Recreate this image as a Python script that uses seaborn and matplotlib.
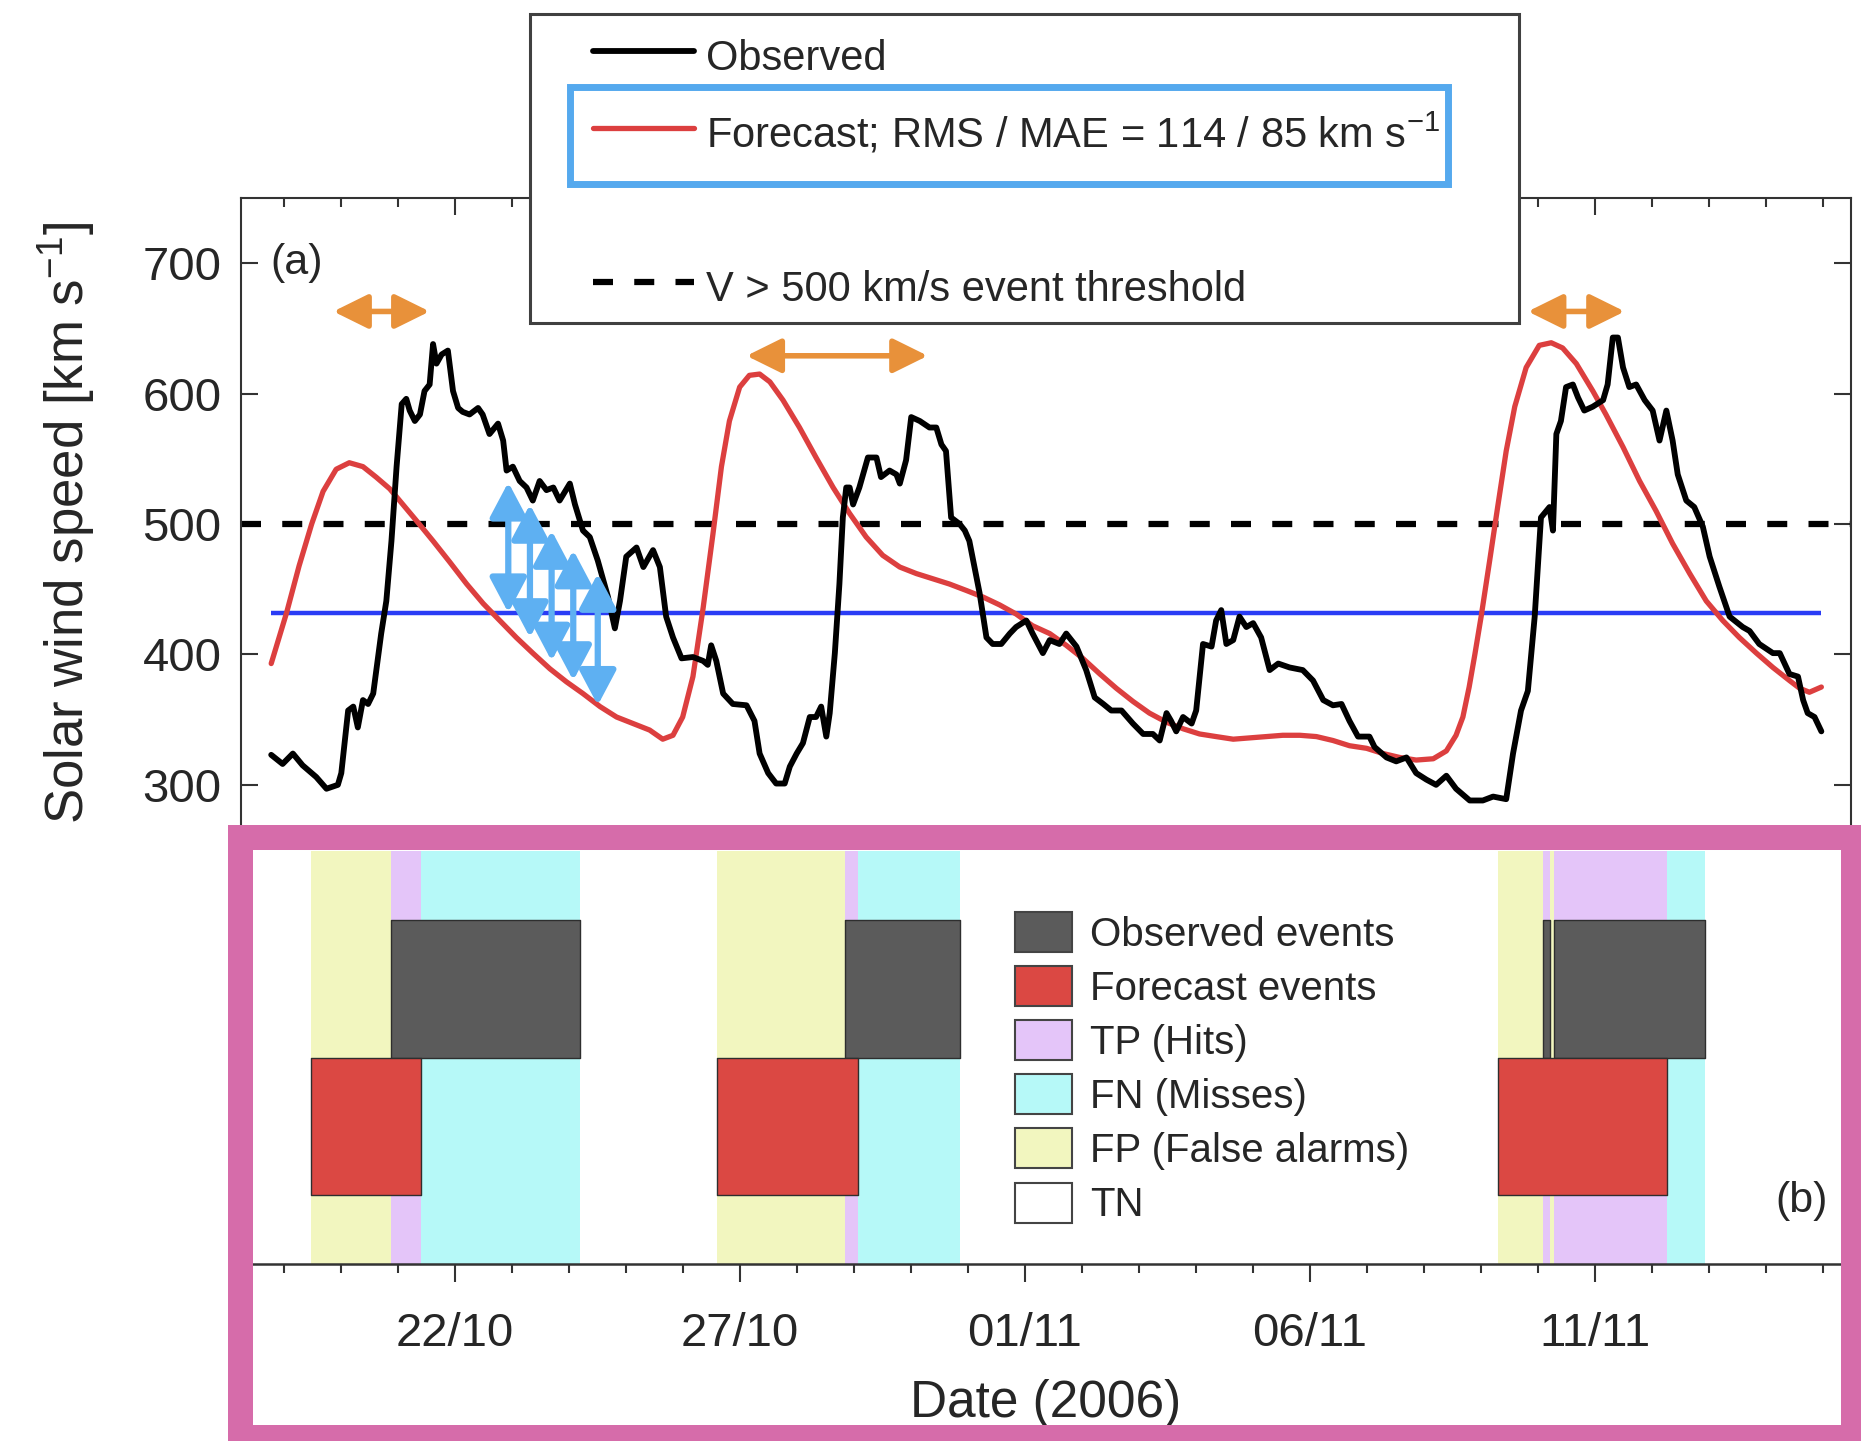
import matplotlib
matplotlib.use('Agg')
import matplotlib.pyplot as plt
import seaborn as sns
import pandas as pd
from matplotlib.patches import Rectangle, Patch
from matplotlib.lines import Line2D

# time is given as day of October 2006 (32 = 1 November)
obs_t = [18.78, 18.98, 19.16, 19.33, 19.57, 19.75, 19.95, 20.01, 20.13, 20.22, 20.30, 20.39, 20.48, 20.57,
         20.71, 20.80, 20.89, 20.98, 21.07, 21.15, 21.21, 21.30, 21.39, 21.47, 21.56, 21.62, 21.68, 21.77,
         21.88, 21.97, 22.06, 22.14, 22.26, 22.41, 22.49, 22.61, 22.76, 22.85, 22.91, 23.02, 23.14, 23.26,
         23.37, 23.49, 23.61, 23.73, 23.84, 24.02, 24.11, 24.25, 24.37, 24.51, 24.69, 24.81, 24.90, 25.01,
         25.19, 25.31, 25.48, 25.60, 25.71, 25.83, 25.98, 26.18, 26.36, 26.44, 26.50, 26.59, 26.71, 26.88,
         27.12, 27.26, 27.35, 27.50, 27.64, 27.79, 27.88, 28.00, 28.11, 28.23, 28.34, 28.43, 28.52, 28.58,
         28.67, 28.75, 28.81, 28.87, 28.93, 28.99, 29.10, 29.25, 29.40, 29.48, 29.63, 29.75, 29.81, 29.92,
         30.01, 30.16, 30.33, 30.45, 30.54, 30.62, 30.71, 30.86, 30.95, 31.03, 31.21, 31.33, 31.44, 31.59,
         31.74, 31.85, 32.03, 32.14, 32.32, 32.44, 32.61, 32.73, 32.91, 33.08, 33.23, 33.38, 33.52, 33.70,
         33.90, 34.08, 34.25, 34.37, 34.49, 34.57, 34.66, 34.78, 34.93, 35.01, 35.13, 35.28, 35.36, 35.45,
         35.54, 35.66, 35.77, 35.89, 36.01, 36.15, 36.30, 36.45, 36.65, 36.88, 37.06, 37.24, 37.41, 37.56,
         37.70, 37.85, 38.05, 38.14, 38.35, 38.52, 38.70, 38.87, 39.05, 39.22, 39.40, 39.57, 39.81, 40.04,
         40.22, 40.45, 40.57, 40.71, 40.83, 40.95, 41.06, 41.21, 41.27, 41.33, 41.41, 41.50, 41.62, 41.71,
         41.82, 41.97, 42.15, 42.23, 42.32, 42.41, 42.50, 42.61, 42.73, 42.88, 43.02, 43.14, 43.26, 43.37,
         43.46, 43.61, 43.75, 43.90, 44.02, 44.19, 44.37, 44.60, 44.72, 44.89, 45.13, 45.25, 45.42, 45.57,
         45.66, 45.74, 45.86, 45.98]
obs_v = [323, 316, 324, 315, 306, 297, 300, 309, 357, 360, 344, 365, 362, 370,
         416, 441, 487, 544, 592, 596, 587, 579, 584, 602, 607, 638, 623, 630,
         633, 602, 589, 586, 584, 589, 584, 569, 577, 564, 541, 544, 533, 528,
         518, 533, 526, 528, 518, 531, 515, 495, 490, 472, 444, 420, 441, 475,
         482, 467, 480, 467, 429, 413, 397, 398, 395, 392, 407, 395, 370, 362,
         361, 349, 324, 309, 301, 301, 314, 324, 332, 352, 352, 360, 337, 355,
         401, 454, 505, 528, 528, 515, 528, 551, 551, 536, 541, 538, 531, 549,
         582, 579, 574, 574, 561, 556, 505, 500, 495, 487, 447, 413, 408, 408,
         416, 421, 426, 416, 401, 411, 408, 416, 406, 388, 367, 362, 357, 357,
         347, 339, 339, 334, 355, 349, 341, 352, 347, 357, 408, 406, 426, 434,
         408, 411, 429, 421, 424, 413, 388, 393, 390, 388, 380, 365, 361, 362,
         349, 337, 337, 329, 321, 318, 321, 309, 304, 300, 307, 297, 288, 288,
         291, 289, 324, 357, 372, 429, 505, 513, 495, 569, 579, 605, 607, 597,
         587, 590, 595, 607, 643, 643, 620, 605, 607, 595, 587, 564, 587, 564,
         538, 518, 513, 498, 475, 452, 429, 421, 418, 408, 401, 401, 385, 383,
         365, 355, 352, 341]

fc_t = [18.78, 19.05, 19.27, 19.49, 19.69, 19.92, 20.15, 20.39, 20.62, 20.86, 21.09, 21.32, 21.62, 21.91,
        22.21, 22.50, 22.79, 23.08, 23.37, 23.67, 23.96, 24.25, 24.55, 24.84, 25.13, 25.42, 25.65, 25.83,
        26.00, 26.18, 26.36, 26.53, 26.68, 26.82, 27.00, 27.17, 27.35, 27.53, 27.76, 28.05, 28.34, 28.64,
        28.93, 29.22, 29.51, 29.81, 30.10, 30.39, 30.68, 30.98, 31.27, 31.56, 31.85, 32.14, 32.44, 32.73,
        33.02, 33.32, 33.61, 33.90, 34.19, 34.49, 34.78, 35.07, 35.36, 35.66, 35.95, 36.24, 36.53, 36.83,
        37.12, 37.41, 37.70, 38.00, 38.29, 38.58, 38.87, 39.17, 39.40, 39.57, 39.69, 39.80, 39.90, 40.01,
        40.16, 40.30, 40.45, 40.60, 40.80, 41.03, 41.24, 41.44, 41.68, 41.97, 42.20, 42.50, 42.79, 43.08,
        43.37, 43.67, 43.96, 44.25, 44.54, 44.84, 45.13, 45.42, 45.60, 45.77, 45.98]
fc_v = [393, 432, 468, 500, 525, 542, 547, 544, 536, 527, 515, 503, 487, 471,
        454, 439, 426, 413, 401, 389, 379, 370, 360, 352, 347, 342, 335, 338,
        352, 383, 436, 492, 544, 579, 605, 614, 615, 609, 595, 574, 551, 528,
        508, 490, 476, 467, 462, 458, 454, 449, 444, 438, 431, 422, 416, 407,
        397, 385, 374, 364, 355, 348, 343, 339, 337, 335, 336, 337, 338, 338,
        337, 334, 330, 328, 324, 321, 319, 320, 326, 338, 352, 375, 400, 429,
        472, 513, 556, 590, 620, 637, 639, 635, 623, 602, 584, 559, 533, 510,
        485, 462, 441, 426, 413, 401, 390, 380, 374, 371, 375]

threshold = 500
mean_speed = 432

# peak offsets (start, end, speed) and error arrows (time, top, bottom)
peak_arrows = [(19.87, 21.56, 663), (27.12, 30.30, 629), (40.83, 42.53, 663)]
error_arrows = [(22.94, 532, 432), (23.32, 515, 413), (23.70, 495, 395), (24.08, 480, 380), (24.51, 462, 361)]

obs_events = [(20.88, 24.20), (28.85, 30.87), (41.09, 41.22), (41.29, 43.93)]
fc_events = [(19.47, 21.40), (26.61, 29.08), (40.31, 43.28)]

major_days = [22, 27, 32, 37, 42]
major_labels = ['22/10', '27/10', '01/11', '06/11', '11/11']
minor_days = list(range(19, 47))

W, H, DPI = 1861, 1441, 100
TXT = '#262626'
C_OBS_BOX = '#5b5b5b'
C_FC_BOX = '#db4843'
C_TP = '#e4c5f9'
C_FN = '#b6f9f8'
C_FP = '#f2f6bf'

sns.set_theme(style='ticks')
plt.rcParams['font.family'] = ['Liberation Sans', 'DejaVu Sans']
plt.rcParams['mathtext.fontset'] = 'custom'
plt.rcParams['mathtext.rm'] = 'Liberation Sans'
plt.rcParams['mathtext.it'] = 'Liberation Sans:italic'
plt.rcParams['text.color'] = TXT
plt.rcParams['axes.edgecolor'] = '#333333'
plt.rcParams['xtick.color'] = '#333333'
plt.rcParams['ytick.color'] = '#333333'
plt.rcParams['xtick.labelcolor'] = TXT
plt.rcParams['ytick.labelcolor'] = TXT


def fx(px):
    return px / W


def fy(py):
    return 1 - py / H


fig = plt.figure(figsize=(W / DPI, H / DPI), dpi=DPI)
fig.patch.set_facecolor('white')
ax1 = fig.add_axes([fx(241), fy(837), fx(1851) - fx(241), fy(198) - fy(837)])
ax2 = fig.add_axes([fx(241), fy(1264), fx(1851) - fx(241), fy(851) - fy(1264)])

# ---- panel (a): speeds
obs = pd.DataFrame({'t': obs_t, 'v': obs_v})
fc = pd.DataFrame({'t': fc_t, 'v': fc_v})

ax1.axhline(threshold, color='black', lw=4.5, dashes=(3.2, 3.4), zorder=1)
ax1.hlines(mean_speed, obs_t[0], obs_t[-1], color='#2a3cf5', lw=3.2, zorder=2)
sns.lineplot(data=fc, x='t', y='v', ax=ax1, color='#dc3f3f', lw=3.8, estimator=None, sort=False, zorder=3)
sns.lineplot(data=obs, x='t', y='v', ax=ax1, color='black', lw=4.2, estimator=None, sort=False, zorder=4)

for t0, t1, v in peak_arrows:
    ax1.annotate('', xy=(t1, v), xytext=(t0, v),
                 arrowprops=dict(arrowstyle='<|-|>,head_length=0.85,head_width=0.42', color='#e8913a',
                                 lw=4, shrinkA=0, shrinkB=0, mutation_scale=25), zorder=6)
for t, vt, vb in error_arrows:
    ax1.annotate('', xy=(t, vt), xytext=(t, vb),
                 arrowprops=dict(arrowstyle='<|-|>,head_length=0.85,head_width=0.45', color='#5eb0f2',
                                 lw=4.5, shrinkA=0, shrinkB=0, mutation_scale=25), zorder=6)

ax1.set_xlim(18.25, 46.5)
ax1.set_ylim(260, 750)
ax1.set_yticks([300, 400, 500, 600, 700])
ax1.set_xticks(major_days)
ax1.set_xticks(minor_days, minor=True)
ax1.tick_params(which='both', direction='in', top=True, right=True, bottom=False,
                labelbottom=False, width=1.5, labelsize=34, pad=14)
ax1.tick_params(which='major', length=12)
ax1.tick_params(which='minor', length=6.5)
ax1.set_xlabel('')
ax1.set_ylabel('Solar wind speed [km s$^{-1}$]', fontsize=38, va='center')
ax1.yaxis.set_label_coords(-0.108, 0.491)
for s in ax1.spines.values():
    s.set_linewidth(1.5)
ax1.text(0.018, 0.898, '(a)', transform=ax1.transAxes, fontsize=31, ha='left', va='center')

# ---- panel (b): events and contingency classes
edges = sorted({e for ev in obs_events + fc_events for e in ev})
for a, b in zip(edges[:-1], edges[1:]):
    m = (a + b) / 2
    f = any(s <= m < e for s, e in fc_events)
    o = any(s <= m < e for s, e in obs_events)
    col = C_TP if (f and o) else C_FN if o else C_FP if f else None
    if col:
        ax2.axvspan(a, b, color=col, lw=0, zorder=0)

ax2.broken_barh([(s, e - s) for s, e in obs_events], (2, 1), facecolors=C_OBS_BOX,
                edgecolors='#2e2e2e', linewidth=1, zorder=2)
ax2.broken_barh([(s, e - s) for s, e in fc_events], (1, 1), facecolors=C_FC_BOX,
                edgecolors='#2e2e2e', linewidth=1, zorder=2)

ax2.set_xlim(18.25, 46.5)
ax2.set_ylim(0.5, 3.5)
ax2.set_yticks([])
ax2.set_xticks(major_days, major_labels)
ax2.set_xticks(minor_days, minor=True)
ax2.tick_params(which='both', direction='out', width=1.5, labelsize=34, pad=22)
ax2.tick_params(which='major', length=12.7)
ax2.tick_params(which='minor', length=6.5)
for k in ['top', 'left', 'right']:
    ax2.spines[k].set_visible(False)
ax2.spines['bottom'].set_linewidth(1.8)
ax2.set_facecolor('white')
ax2.set_xlabel('Date (2006)', fontsize=37, va='center')
ax2.xaxis.set_label_coords(0.5, -0.338)
ax2.text(0.9857, 0.1525, '(b)', transform=ax2.transAxes, fontsize=31, ha='right', va='center')

box_handles = [Patch(facecolor=C_OBS_BOX, edgecolor='#444444', lw=1.5),
               Patch(facecolor=C_FC_BOX, edgecolor='#444444', lw=1.5),
               Patch(facecolor=C_TP, edgecolor='#444444', lw=1.5),
               Patch(facecolor=C_FN, edgecolor='#444444', lw=1.5),
               Patch(facecolor=C_FP, edgecolor='#444444', lw=1.5),
               Patch(facecolor='white', edgecolor='#444444', lw=1.5)]
box_labels = ['Observed events', 'Forecast events', 'TP (Hits)', 'FN (Misses)',
              'FP (False alarms)', 'TN']
leg2 = ax2.legend(box_handles, box_labels, loc='upper left', bbox_to_anchor=(fx(1015), fy(912)),
                  bbox_transform=fig.transFigure, frameon=False, fontsize=29, borderpad=0,
                  borderaxespad=0, handlelength=1.41, handleheight=1.15, handletextpad=0.45,
                  labelspacing=0.31)

# ---- top legend (box drawn over panel a)
fig.patches.append(Rectangle((fx(530), fy(323)), fx(1519) - fx(530), fy(14) - fy(323),
                             transform=fig.transFigure, facecolor='white', edgecolor='#404040',
                             lw=2.2, zorder=5))
line_handles = [Line2D([], [], color='black', lw=4.2),
                Line2D([], [], color='#dc3f3f', lw=3.8),
                Line2D([], [], color='none'),
                Line2D([], [], color='black', lw=4.5, dashes=(3.2, 3.4))]
line_labels = ['Observed', 'Forecast; RMS / MAE = 114 / 85 km s$^{-1}$', ' ',
               'V > 500 km/s event threshold']
leg1 = fig.legend(line_handles, line_labels, loc='upper left', bbox_to_anchor=(fx(593), fy(31)),
                  bbox_transform=fig.transFigure, frameon=False, fontsize=30, borderpad=0,
                  borderaxespad=0, handlelength=2.42, handletextpad=0.29, handleheight=1.5,
                  labelspacing=0.63)
leg1.set_zorder(8)
fig.patches.append(Rectangle((fx(570), fy(184)), fx(1448) - fx(570), fy(87) - fy(184),
                             transform=fig.transFigure, fill=False, edgecolor='#55a9ee',
                             lw=5, zorder=9))

# ---- pink frame around panel (b)
fig.patches.append(Rectangle((fx(240), fy(1437)), fx(1853) - fx(240), fy(837) - fy(1437),
                             transform=fig.transFigure, fill=False, edgecolor='#d66caa',
                             lw=18, joinstyle='miter', zorder=10))

fig.savefig('out.png', dpi=DPI)
